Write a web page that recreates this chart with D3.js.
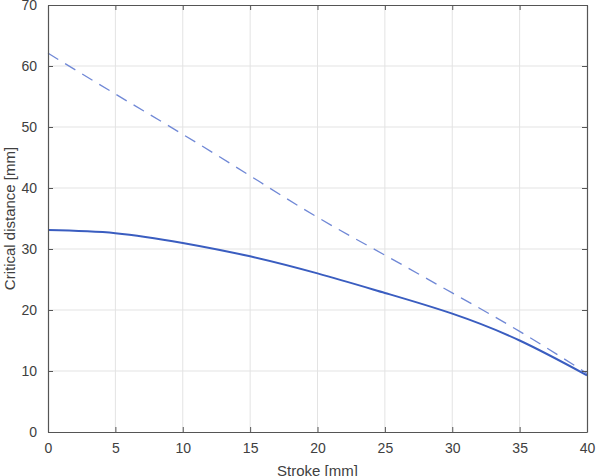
<!DOCTYPE html>
<html>
<head>
<meta charset="utf-8">
<script src="https://cdn.jsdelivr.net/npm/d3@7"></script>
<style>
  body { margin: 0; background: #fff; }
  svg { display: block; font-family: "Liberation Sans", Arial, sans-serif; }
</style>
</head>
<body>
<div id="chart"></div>
<script>
// data
var stroke = [0, 5, 10, 15, 20, 25, 30, 35, 40];
var solidDist = [33.1, 32.6, 31.0, 28.8, 26.0, 22.8, 19.4, 15.0, 9.3];
var dashedDist = [62.1, 55.4, 48.8, 42.0, 35.2, 29.0, 22.8, 16.5, 9.6];
var xTicks = [0, 5, 10, 15, 20, 25, 30, 35, 40];
var yTicks = [0, 10, 20, 30, 40, 50, 60, 70];

function drawChart(){
    var w = 596, h = 476;
    var left = 48, right = 587, top = 5, bottom = 432;

    var svg = d3.select("#chart")
                .append("svg")
                .attr("width", w)
                .attr("height", h);

    var x = d3.scaleLinear().domain([0, 40]).range([left, right]);
    var y = d3.scaleLinear().domain([0, 70]).range([bottom, top]);

    // grid
    svg.append("g").selectAll("line")
        .data(xTicks.slice(1, -1))
        .enter().append("line")
        .attr("x1", function(d){ return x(d); })
        .attr("x2", function(d){ return x(d); })
        .attr("y1", top).attr("y2", bottom)
        .attr("stroke", "#e3e3e3").attr("stroke-width", 1);
    svg.append("g").selectAll("line")
        .data(yTicks.slice(1, -1))
        .enter().append("line")
        .attr("y1", function(d){ return y(d); })
        .attr("y2", function(d){ return y(d); })
        .attr("x1", left).attr("x2", right)
        .attr("stroke", "#e3e3e3").attr("stroke-width", 1);

    var line = d3.line()
        .x(function(d, i){ return x(stroke[i]); })
        .y(function(d){ return y(d); })
        .curve(d3.curveNatural);

    svg.append("path")
        .attr("d", line(dashedDist))
        .attr("fill", "none")
        .attr("stroke", "#7088d6")
        .attr("stroke-width", 1.3)
        .attr("stroke-dasharray", "12,8");

    svg.append("path")
        .attr("d", line(solidDist))
        .attr("fill", "none")
        .attr("stroke", "#3a5dc0")
        .attr("stroke-width", 2);

    // axes, MATLAB style with box and inward ticks
    var axisColor = "#555";
    var xAxis = d3.axisBottom(x).tickValues(xTicks).tickSizeInner(-5).tickSizeOuter(0).tickPadding(11);
    var gx = svg.append("g").attr("transform", "translate(0," + bottom + ")").call(xAxis);
    var xTop = d3.axisTop(x).tickValues(xTicks).tickSizeInner(-5).tickSizeOuter(0).tickFormat("");
    var gxt = svg.append("g").attr("transform", "translate(0," + top + ")").call(xTop);

    var yAxis = d3.axisLeft(y).tickValues(yTicks).tickSizeInner(-5).tickSizeOuter(0).tickPadding(11);
    var gy = svg.append("g").attr("transform", "translate(" + left + ",0)").call(yAxis);
    var yRight = d3.axisRight(y).tickValues(yTicks).tickSizeInner(-5).tickSizeOuter(0).tickFormat("");
    var gyr = svg.append("g").attr("transform", "translate(" + right + ",0)").call(yRight);

    [gx, gxt, gy, gyr].forEach(function(g){
        g.select(".domain").attr("stroke", axisColor).attr("stroke-width", 1.2);
        g.selectAll(".tick line").attr("stroke", axisColor);
        g.selectAll(".tick text")
            .attr("fill", "#404040")
            .style("font-size", "14px")
            .style("font-family", "Liberation Sans, Arial, sans-serif");
    });
    gx.selectAll(".tick text").attr("dy", "0.71em");

    svg.append("text")
        .attr("x", (left + right) / 2)
        .attr("y", 476)
        .attr("text-anchor", "middle")
        .attr("fill", "#404040")
        .style("font-size", "15px")
        .text("Stroke [mm]");

    svg.append("text")
        .attr("transform", "translate(15," + ((top + bottom) / 2) + ") rotate(-90)")
        .attr("text-anchor", "middle")
        .attr("fill", "#404040")
        .style("font-size", "15px")
        .text("Critical distance [mm]");
}

window.onload = drawChart;
</script>
</body>
</html>
